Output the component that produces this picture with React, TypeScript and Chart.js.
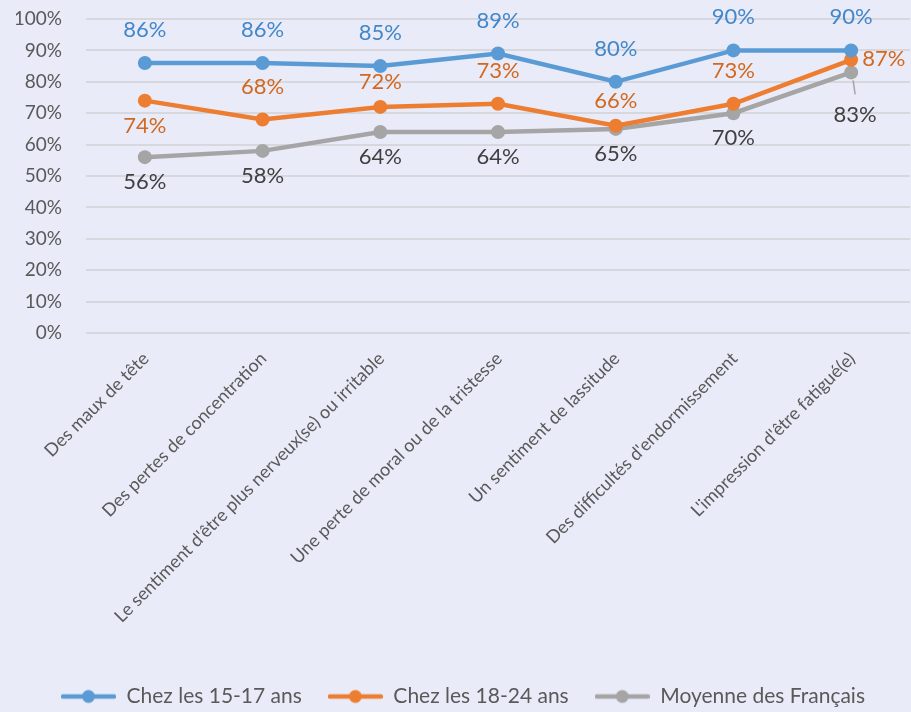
import React, { useEffect, useRef } from 'react';
import { Chart, registerables } from 'chart.js';

Chart.register(...registerables);

const categories: string[] = [
  'Des maux de tête',
  'Des pertes de concentration',
  "Le sentiment d'être plus nerveux(se) ou irritable",
  'Une perte de moral ou de la tristesse',
  'Un sentiment de lassitude',
  "Des difficultés d'endormissement",
  "L'impression d'être fatigué(e)",
];

const seriesNames: string[] = ['Chez les 15-17 ans', 'Chez les 18-24 ans', 'Moyenne des Français'];

const values1517: number[] = [86, 86, 85, 89, 80, 90, 90];
const values1824: number[] = [74, 68, 72, 73, 66, 73, 87];
const valuesAvg: number[] = [56, 58, 64, 64, 65, 70, 83];

const yTickValues: number[] = [0, 10, 20, 30, 40, 50, 60, 70, 80, 90, 100];

// label placement for each data label
const place1517: string[] = ['above', 'above', 'above', 'above', 'above', 'above', 'above'];
const place1824: string[] = ['below', 'above', 'aboveNear', 'above', 'aboveNear', 'above', 'right'];
const placeAvg: string[] = ['below', 'below', 'below', 'below', 'below', 'below', 'belowFar'];

const lineColors = ['#5B9BD5', '#ED7D31', '#A5A5A5'];
const labelColors = ['#4387CA', '#D2681F', '#404040'];
const FONT = 'Lato, "Open Sans", sans-serif';
const PLOT_RIGHT_GAP = 1;

function makeLegendMarker(color: string): HTMLCanvasElement {
  const c = document.createElement('canvas');
  c.width = 55;
  c.height = 16;
  const ctx = c.getContext('2d')!;
  ctx.strokeStyle = color;
  ctx.lineWidth = 4.5;
  ctx.lineCap = 'round';
  ctx.beginPath();
  ctx.moveTo(2, 8);
  ctx.lineTo(53, 8);
  ctx.stroke();
  ctx.fillStyle = color;
  ctx.beginPath();
  ctx.arc(27.5, 8, 6.5, 0, Math.PI * 2);
  ctx.fill();
  return c;
}

const bgPlugin = {
  id: 'bgFill',
  beforeDraw(chart: any) {
    const { ctx, width, height } = chart;
    ctx.save();
    ctx.fillStyle = '#E9ECF8';
    ctx.fillRect(0, 0, width, height);
    ctx.restore();
  },
};

// stretch the plot area to the right edge (rotated labels otherwise reserve extra room)
const stretchPlugin = {
  id: 'stretchRight',
  afterLayout(chart: any) {
    const area = chart.chartArea;
    const target = chart.width - PLOT_RIGHT_GAP;
    const d = target - area.right;
    if (d > 0) {
      area.right = target;
      area.width += d;
      const xs = chart.scales.x;
      xs.right = target;
      xs.width += d;
      xs.configure();
    }
  },
};

const labelPlugin = {
  id: 'pointLabels',
  afterDatasetsDraw(chart: any) {
    const { ctx } = chart;
    const placements = [place1517, place1824, placeAvg];
    ctx.save();
    ctx.font = `22px ${FONT}`;
    ctx.textBaseline = 'middle';
    chart.data.datasets.forEach((ds: any, di: number) => {
      const meta = chart.getDatasetMeta(di);
      meta.data.forEach((pt: any, i: number) => {
        const v = ds.data[i];
        const text = `${v}%`;
        const p = placements[di][i];
        let x = pt.x;
        let y = pt.y;
        ctx.textAlign = 'center';
        if (p === 'above') y -= 33;
        else if (p === 'aboveNear') y -= 25;
        else if (p === 'below') y += 25;
        else if (p === 'right') {
          x += 11;
          y -= 1;
          ctx.textAlign = 'left';
        } else if (p === 'belowFar') {
          ctx.strokeStyle = '#A5A5A5';
          ctx.lineWidth = 1.5;
          ctx.beginPath();
          ctx.moveTo(pt.x + 2, pt.y + 8);
          ctx.lineTo(pt.x + 4, pt.y + 22);
          ctx.stroke();
          x += 4;
          y += 43;
        }
        ctx.fillStyle = labelColors[di];
        ctx.fillText(text, x, y);
      });
    });
    ctx.restore();
  },
};

export default function App() {
  const ref = useRef<HTMLCanvasElement | null>(null);

  useEffect(() => {
    document.body.style.margin = '0';
    const canvas = ref.current!;
    const markers = lineColors.map(makeLegendMarker);
    const allValues = [values1517, values1824, valuesAvg];
    const chart = new Chart(canvas, {
      type: 'line',
      data: {
        labels: categories,
        datasets: allValues.map((vals, i) => ({
          label: seriesNames[i],
          data: vals,
          borderColor: lineColors[i],
          backgroundColor: lineColors[i],
          borderWidth: 4.5,
          pointRadius: 7,
          pointBorderWidth: 0,
          pointBackgroundColor: lineColors[i],
          tension: 0,
          fill: false,
        })),
      },
      options: {
        responsive: false,
        animation: false,
        events: [],
        layout: { padding: { top: 19, left: 16, right: 1, bottom: -5 } },
        scales: {
          x: {
            offset: true,
            grid: { display: false, drawTicks: false },
            border: { display: false },
            ticks: {
              autoSkip: false,
              maxRotation: 45,
              minRotation: 45,
              padding: 15,
              labelOffset: 1,
              color: '#595959',
              font: { family: FONT, size: 18 },
            },
            afterFit(scale: any) {
              scale.height = 327;
              scale.paddingLeft = 0;
              scale.paddingRight = 0;
            },
          },
          y: {
            min: 0,
            max: 100,
            afterBuildTicks(scale: any) {
              scale.ticks = yTickValues.map((v) => ({ value: v }));
            },
            grid: { color: '#D6D8DE', lineWidth: 2, drawTicks: false },
            border: { display: false },
            ticks: {
              padding: 24,
              color: '#595959',
              font: { family: FONT, size: 19 },
              callback: (v: any) => `${v}%`,
            },
            afterFit(scale: any) {
              scale.width = 70;
              scale.paddingTop = 0;
              scale.paddingBottom = 0;
            },
          },
        },
        plugins: {
          legend: {
            position: 'bottom',
            align: 'center',
            labels: {
              usePointStyle: true,
              pointStyleWidth: 55,
              padding: 26,
              color: '#595959',
              font: { family: FONT, size: 21 },
              generateLabels(ch: any) {
                const base = Chart.defaults.plugins.legend.labels.generateLabels(ch);
                return base.map((item: any, i: number) => ({
                  ...item,
                  pointStyle: markers[i],
                  lineWidth: 0,
                }));
              },
            },
          },
          tooltip: { enabled: false },
        },
      },
      plugins: [bgPlugin, stretchPlugin, labelPlugin],
    } as any);
    return () => chart.destroy();
  }, []);

  return (
    <div style={{ position: 'absolute', left: 0, top: 0, width: 911, height: 712 }}>
      <canvas ref={ref} width={911} height={712} />
    </div>
  );
}
